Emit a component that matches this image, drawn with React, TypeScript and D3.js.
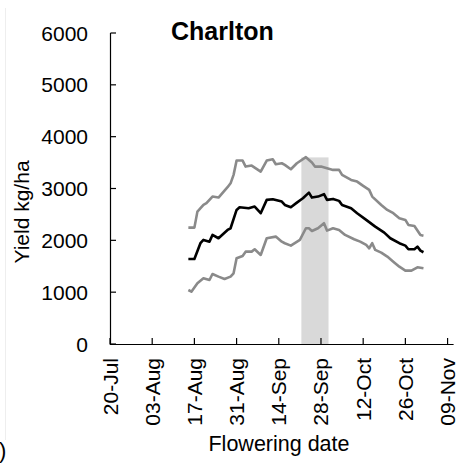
import React from "react";
import * as d3 from "d3";

// ---- data ----
const meanDates = ["08-15","08-17","08-19","08-20","08-22","08-23","08-25","08-28","08-29","08-31","09-01","09-04","09-06","09-08","09-10","09-12","09-15","09-16","09-18","09-20","09-22","09-24","09-25","09-27","09-29","09-30","10-02","10-04","10-05","10-08","10-10","10-13","10-16","10-19","10-21","10-24","10-26","10-27","10-29","10-30","10-31","11-01"];
const meanValues = [1640,1640,1944,2008,1975,2104,2040,2200,2233,2587,2639,2619,2651,2523,2780,2793,2748,2683,2639,2728,2812,2921,2825,2844,2890,2780,2799,2761,2683,2620,2523,2394,2265,2149,2040,1944,1898,1828,1828,1879,1801,1770];

const upperDates = ["08-15","08-17","08-18","08-20","08-21","08-23","08-25","08-28","08-29","08-30","08-31","09-02","09-03","09-05","09-08","09-10","09-12","09-13","09-15","09-16","09-18","09-20","09-23","09-25","09-26","09-28","09-30","10-02","10-04","10-05","10-08","10-10","10-12","10-14","10-15","10-18","10-20","10-22","10-24","10-26","10-27","10-29","10-31","11-01"];
const upperValues = [2245,2245,2554,2683,2716,2844,2825,3025,3100,3263,3539,3539,3423,3442,3326,3539,3565,3468,3487,3455,3372,3487,3604,3500,3423,3423,3391,3359,3359,3263,3166,3133,3050,2973,2844,2683,2587,2523,2426,2394,2297,2278,2104,2090];

const lowerDates = ["08-15","08-16","08-18","08-20","08-22","08-23","08-25","08-27","08-29","08-30","08-31","09-02","09-03","09-05","09-06","09-08","09-10","09-13","09-15","09-16","09-18","09-21","09-23","09-24","09-25","09-27","09-29","09-30","10-02","10-04","10-06","10-09","10-11","10-13","10-14","10-15","10-16","10-18","10-20","10-22","10-24","10-26","10-28","10-30","11-01"];
const lowerValues = [1042,1010,1172,1268,1235,1351,1300,1255,1300,1364,1654,1699,1782,1782,1827,1718,2040,2072,1975,1944,1898,2008,2233,2233,2181,2233,2330,2188,2233,2200,2104,2021,1975,1911,1847,1944,1815,1763,1686,1589,1492,1415,1415,1480,1461];

const xTickLabels = ["20-Jul","03-Aug","17-Aug","31-Aug","14-Sep","28-Sep","12-Oct","26-Oct","09-Nov"];
const yTicks = [0, 1000, 2000, 3000, 4000, 5000, 6000];
const bandStart = "09-21";
const bandEnd = "09-30";
const bandTop = 3600;
const titleText = "Charlton";
const yTitle = "Yield kg/ha";
const xTitle = "Flowering date";

const parse = (md: string) => new Date(2020, +md.slice(0, 2) - 1, +md.slice(3));
const domainStart = new Date(2020, 6, 20);
const domainEnd = new Date(2020, 10, 11);

export default function App() {
  const W = 461, H = 472;
  const x = d3.scaleTime().domain([domainStart, domainEnd]).range([110, 453.6]);
  const y = d3.scaleLinear().domain([0, 6000]).range([344, 33]);
  const tickDates = xTickLabels.map((_, i) => d3.timeDay.offset(domainStart, i * 14));

  const line = d3
    .line<[Date, number]>()
    .x((d) => x(d[0]))
    .y((d) => y(d[1]));
  const mk = (ds: string[], vs: number[]) => line(ds.map((d, i) => [parse(d), vs[i]] as [Date, number])) || "";

  const font = "'Liberation Sans', Arial, sans-serif";
  const bx0 = x(parse(bandStart)) + 1.5;
  const bx1 = x(parse(bandEnd)) + 1.5;

  return (
    <svg width={W} height={H} style={{ position: "absolute", left: 0, top: 0, background: "#fff" }} fontFamily={font}>
      <rect x={0} y={0} width={W} height={H} fill="#fff" />
      <line x1={5.5} x2={5.5} y1={8} y2={440} stroke="#eeeeee" strokeWidth={1} />
      {/* shaded band */}
      <rect x={bx0} y={y(bandTop)} width={bx1 - bx0} height={y(0) - y(bandTop)} fill="#d9d9d9" />
      {/* series */}
      <path d={mk(upperDates, upperValues)} fill="none" stroke="#8a8a8a" strokeWidth={2.6} strokeLinejoin="round" />
      <path d={mk(lowerDates, lowerValues)} fill="none" stroke="#8a8a8a" strokeWidth={2.6} strokeLinejoin="round" />
      <path d={mk(meanDates, meanValues)} fill="none" stroke="#000" strokeWidth={2.6} strokeLinejoin="round" />
      {/* y axis */}
      <line x1={110.5} x2={110.5} y1={y(6000)} y2={y(0)} stroke="#000" strokeWidth={1.2} />
      {yTicks.map((t) => (
        <g key={t}>
          <line x1={110.5} x2={116} y1={y(t)} y2={y(t)} stroke="#000" strokeWidth={1.2} />
          <text x={88} y={y(t) + 7.5} textAnchor="end" fontSize={21} fill="#000">
            {t}
          </text>
        </g>
      ))}
      {/* x axis */}
      <line x1={110} x2={453.6} y1={344.5} y2={344.5} stroke="#000" strokeWidth={1.2} />
      {tickDates.map((d, i) => (
        <g key={i}>
          <line x1={x(d)} x2={x(d)} y1={344.5} y2={338} stroke="#000" strokeWidth={1.2} />
          <text
            transform={`translate(${x(d) + 7.5},358) rotate(-90)`}
            textAnchor="end"
            fontSize={21}
            fill="#000"
          >
            {xTickLabels[i]}
          </text>
        </g>
      ))}
      {/* titles */}
      <text x={171} y={40} fontSize={25} fontWeight="bold" fill="#000">
        {titleText}
      </text>
      <text transform={`translate(28.5,212) rotate(-90)`} textAnchor="middle" fontSize={21} fill="#000">
        {yTitle}
      </text>
      <text x={279} y={451} textAnchor="middle" fontSize={21.5} fill="#000">
        {xTitle}
      </text>
      <text x={-1} y={458} fontSize={22} fill="#000">
        )
      </text>
    </svg>
  );
}
